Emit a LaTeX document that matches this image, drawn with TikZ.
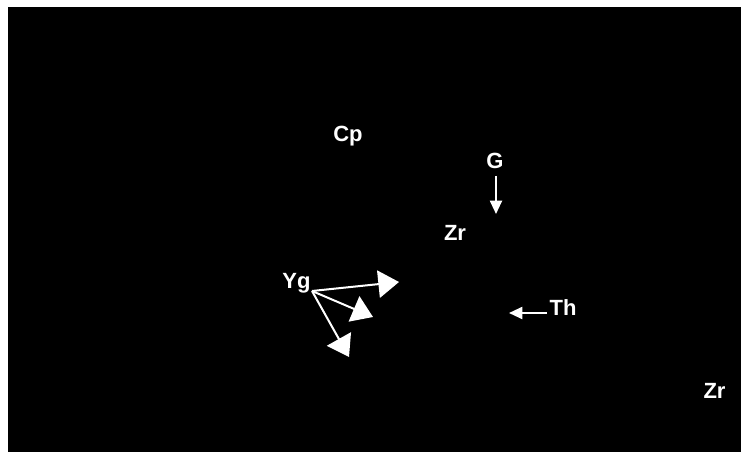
\documentclass[tikz,border=0pt]{standalone}
\usepackage{fontspec}
\setmainfont{Liberation Sans}
\usetikzlibrary{arrows.meta}
\begin{document}
\begin{tikzpicture}[x=0.75pt,y=-0.75pt,
  lbl/.style={text=white,font=\bfseries\fontsize{16.5}{19}\selectfont,inner sep=0pt,anchor=base},
  smallarrow/.style={draw=white,line width=1.5pt,-{Triangle[length=10pt,width=9pt]}},
  bigarrow/.style={draw=white,line width=1.5pt,-{Triangle[length=15.5pt,width=20.5pt]}}]
\useasboundingbox (0,0) rectangle (741,452);
\fill[black] (8,7) rectangle (741,452);

% labels
\node[lbl] (cp)  at (348,142) {Cp};
\node[lbl] (g)   at (495,169) {G};
\node[lbl] (zr1) at (455,240) {Zr};
\node[lbl] (yg)  at (296.5,288) {Yg};
\node[lbl] (th)  at (563,315) {Th};
\node[lbl] (zr2) at (714.5,398) {Zr};

% arrow end points
\coordinate (gs)  at (496,176);
\coordinate (gt)  at (496,214);
\coordinate (ths) at (547,313);
\coordinate (tht) at (509,313);
\coordinate (yo)  at (312,291);
\coordinate (ya)  at (399,282);
\coordinate (yb)  at (373,317);
\coordinate (yc)  at (349,357);

\draw[smallarrow] (gs) -- (gt);
\draw[smallarrow] (ths) -- (tht);
\draw[bigarrow] (yo) -- (ya);
\draw[bigarrow] (yo) -- (yb);
\draw[bigarrow] (yo) -- (yc);
\end{tikzpicture}
\end{document}
